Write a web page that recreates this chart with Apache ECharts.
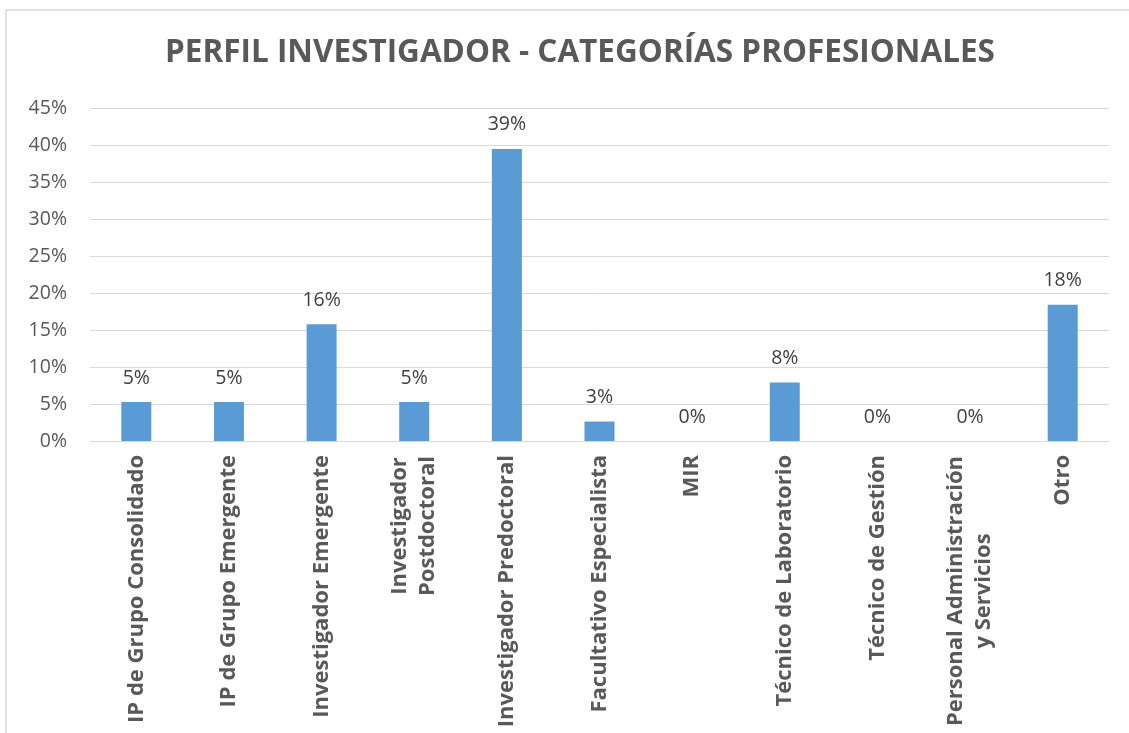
<!DOCTYPE html>
<html>
<head>
<meta charset="utf-8">
<script src="https://cdn.jsdelivr.net/npm/echarts@6/dist/echarts.min.js"></script>
<style>
     html, body { margin: 0; padding: 0; background: #fff; }
     #main { width: 1129px; height: 733px; }
</style>
</head>
<body>
<div id="main"></div>
<script>
var categorias = [
     'IP de Grupo Consolidado',
     'IP de Grupo Emergente',
     'Investigador Emergente',
     'Investigador\nPostdoctoral',
     'Investigador Predoctoral',
     'Facultativo Especialista',
     'MIR',
     'Técnico de Laboratorio',
     'Técnico de Gestión',
     'Personal Administración\ny Servicios',
     'Otro'
];
var valores = [5.26, 5.26, 15.79, 5.26, 39.47, 2.63, 0, 7.89, 0, 0, 18.42];
var ejeMin = 0;
var ejeMax = 45;
var ejeIntervalo = 5;

var fuente = '"Open Sans", sans-serif';
var tamEtiqueta = 22;
var fuenteEtiqueta = 'bold ' + tamEtiqueta + 'px "Open Sans"';

function anchoTexto(texto) {
     var ctx = document.createElement('canvas').getContext('2d');
     ctx.font = fuenteEtiqueta;
     return Math.ceil(ctx.measureText(texto).width) + 2;
}

// lineas centradas en etiquetas de dos renglones
var richEtiquetas = {};
function EtiquetaCategoria(valor, idx) {
     if (valor.indexOf('\n') < 0) {
          return valor;
     }
     var partes = valor.split('\n');
     var w = 0;
     partes.forEach(function (p) { w = Math.max(w, anchoTexto(p)); });
     var key = 'c' + idx;
     richEtiquetas[key] = {
          width: w,
          align: 'center',
          fontFamily: fuente,
          fontWeight: 'bold',
          fontSize: tamEtiqueta,
          lineHeight: 28,
          color: '#595959'
     };
     return partes.map(function (p) { return '{' + key + '|' + p + '}'; }).join('\n');
}
var etiquetas = categorias.map(EtiquetaCategoria);

var chart = echarts.init(document.getElementById('main'));

chart.setOption({
     animation: false,
     backgroundColor: '#ffffff',
     title: {
          text: 'PERFIL INVESTIGADOR - CATEGORÍAS PROFESIONALES',
          left: 160,
          top: 32,
          textStyle: {
               fontFamily: fuente,
               fontWeight: 'bold',
               fontSize: 31.5,
               color: '#595959'
          }
     },
     graphic: [{
          type: 'rect',
          shape: { x: 6, y: 10, width: 1140, height: 760 },
          style: { fill: 'none', stroke: '#d9d9d9', lineWidth: 1.5 },
          silent: true
     }],
     grid: {
          left: 90,
          right: 20,
          top: 108,
          bottom: 292,
          containLabel: false
     },
     xAxis: [{
          type: 'category',
          data: etiquetas,
          axisLine: { show: true, lineStyle: { color: '#d9d9d9', width: 1 } },
          axisTick: { show: false },
          axisLabel: {
               interval: 0,
               rotate: 90,
               margin: 14,
               fontFamily: fuente,
               fontWeight: 'bold',
               fontSize: tamEtiqueta,
               lineHeight: 28,
               color: '#595959',
               rich: richEtiquetas
          }
     }],
     yAxis: [{
          type: 'value',
          min: ejeMin,
          max: ejeMax,
          interval: ejeIntervalo,
          axisLine: { show: false },
          axisTick: { show: false },
          axisLabel: {
               formatter: '{value}%',
               margin: 23,
               fontFamily: fuente,
               fontSize: 19.5,
               color: '#595959'
          },
          splitLine: { lineStyle: { color: '#d9d9d9', width: 1 } }
     }],
     series: [{
          name: 'Porcentaje',
          type: 'bar',
          barWidth: 30,
          data: valores,
          itemStyle: { color: '#5b9bd5' },
          label: {
               show: true,
               position: 'top',
               distance: 14,
               fontFamily: fuente,
               fontSize: 19.5,
               color: '#404040',
               formatter: function (p) { return Math.round(p.value) + '%'; }
          }
     }]
});
</script>
</body>
</html>
